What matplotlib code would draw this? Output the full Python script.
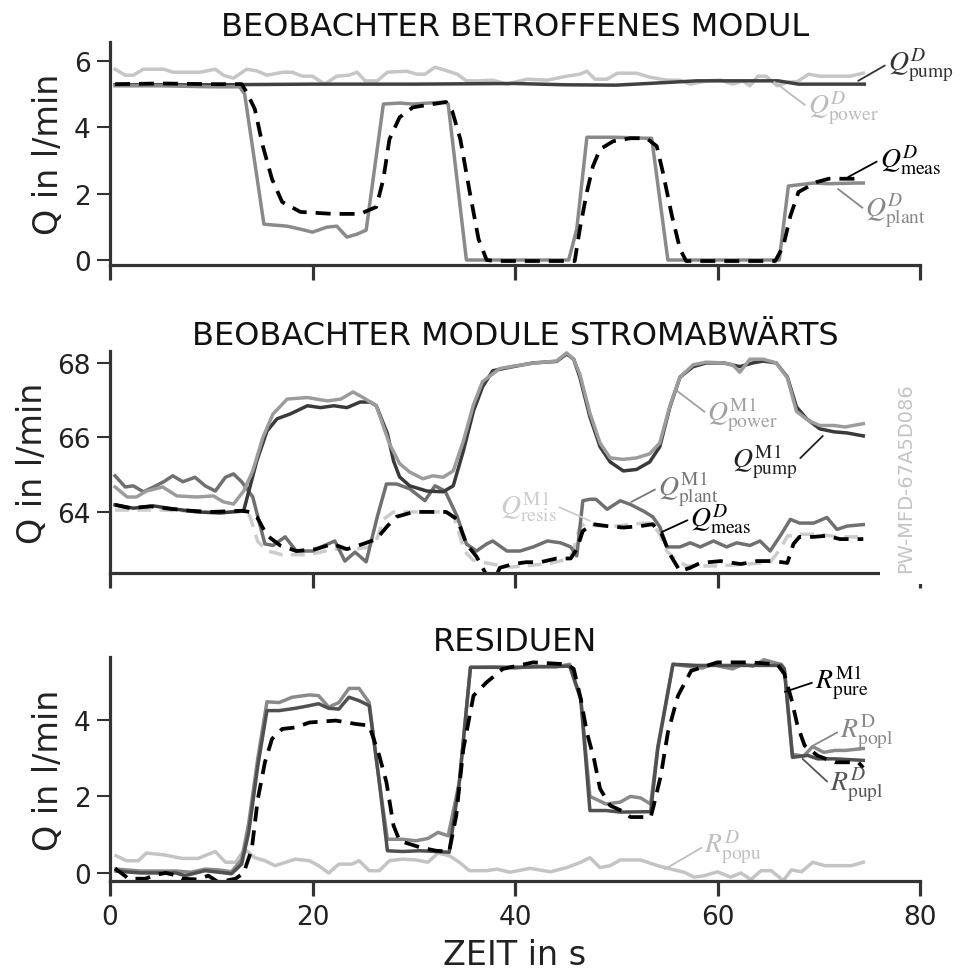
import matplotlib
matplotlib.use("Agg")
import matplotlib.pyplot as plt
from matplotlib.patches import Rectangle

plt.rcParams['font.family'] = ['DejaVu Sans']
plt.rcParams['mathtext.fontset'] = 'stix'

# ---------------- data: (time in s, flow) ----------------
# Panel 1: Beobachter betroffenes Modul
Q_PUMP_D = [(0.5, 5.28), (10, 5.28), (20, 5.3), (30, 5.3), (40, 5.32), (45, 5.28), (50, 5.27),
            (55, 5.35), (58, 5.4), (62, 5.4), (66, 5.4), (68, 5.3), (74.5, 5.3)]
Q_POWER_D = [(0.5, 5.75), (1.5, 5.57), (2.3, 5.57), (3.3, 5.75), (5.3, 5.75), (6.2, 5.66), (8.9, 5.66),
             (10.4, 5.75), (11.2, 5.57), (12.2, 5.48), (13.5, 5.75), (14.5, 5.7), (15.5, 5.57),
             (17.1, 5.66), (18, 5.66), (19, 5.54), (20, 5.54), (21.2, 5.3), (22.4, 5.54), (23.6, 5.57),
             (24.4, 5.66), (25.2, 5.4), (26.4, 5.4), (27.4, 5.66), (29.3, 5.69), (30.3, 5.6), (31.1, 5.6),
             (32.1, 5.81), (33.3, 5.7), (34.3, 5.6), (35.2, 5.4), (36.5, 5.4), (37.8, 5.42), (39.2, 5.3),
             (41.2, 5.45), (43.2, 5.42), (45.1, 5.54), (46.4, 5.6), (47.1, 5.69), (47.9, 5.45),
             (49.1, 5.45), (50.1, 5.63), (52, 5.63), (53.3, 5.51), (55, 5.42), (56.3, 5.42), (57.3, 5.3),
             (59, 5.4), (60.3, 5.42), (61.5, 5.3), (62.5, 5.4), (63.2, 5.25), (64, 5.54), (64.8, 5.54),
             (65.9, 5.25), (66.9, 5.36), (67.9, 5.38), (69, 5.6), (70.1, 5.54), (73.1, 5.54), (74.4, 5.63)]
Q_PLANT_D = [(0.5, 5.25), (5, 5.25), (10, 5.22), (12.8, 5.22), (13.3, 5.0), (15.2, 1.08), (17.5, 1.02),
             (18.8, 0.93), (20, 0.84), (21.4, 0.99), (22.4, 1.02), (23.4, 0.69), (24.4, 0.78),
             (25.3, 0.9), (27, 4.7), (28.6, 4.73), (29.9, 4.7), (33.1, 4.76), (33.4, 4.7), (35.2, 0.0),
             (45.3, 0.0), (46.1, 0.93), (47.1, 3.7), (49.8, 3.7), (53, 3.67), (53.5, 3.67), (55.1, 0.0),
             (66.1, 0.0), (67, 2.23), (69.5, 2.32), (71, 2.3), (73.7, 2.32), (74.4, 2.32)]
Q_MEAS_D = [(0.5, 5.3), (5, 5.32), (10, 5.3), (13, 5.3), (13.5, 5.06), (14.3, 4.55), (15.1, 3.43),
            (16, 2.44), (17, 1.75), (18.8, 1.45), (22, 1.39), (24.7, 1.39), (26.3, 1.6), (27, 2.44),
            (27.6, 3.64), (28.6, 4.3), (29.9, 4.6), (31.9, 4.7), (33.2, 4.76), (33.8, 4.49), (34.6, 3.64),
            (35.6, 1.93), (36.4, 0.63), (37.2, 0.0), (38, -0.03), (45.9, -0.03), (46.4, 0.93), (47.1, 2.05),
            (47.7, 2.83), (48.4, 3.34), (49.7, 3.58), (51.4, 3.67), (53, 3.67), (54, 3.43), (54.6, 2.65),
            (55.5, 1.33), (56.3, 0.33), (56.9, -0.03), (65.7, -0.03), (66.5, 0.42), (67.2, 1.33),
            (68, 2.05), (69.8, 2.35), (71, 2.45), (74.4, 2.45)]

# Panel 2: Beobachter Module stromabwaerts
Q_PUMP_M1 = [(0.5, 64.19), (2.3, 64.1), (4.3, 64.16), (6.3, 64.08), (8.6, 64.0), (10.9, 63.97),
             (13.2, 64.03), (14.5, 65.37), (15.5, 66.17), (16.5, 66.5), (17.8, 66.63), (19.5, 66.85),
             (20.8, 66.8), (22.1, 66.85), (23.4, 66.8), (24.7, 66.95), (25.7, 66.95), (26.3, 66.85),
             (27.4, 66.1), (28, 65.37), (28.6, 64.94), (29.6, 64.7), (31.3, 64.56), (32.9, 64.54),
             (33.9, 64.7), (34.9, 65.64), (35.9, 66.71), (36.8, 67.36), (37.8, 67.79), (39.8, 67.9),
             (41.8, 68.0), (44.1, 68.04), (45.1, 68.24), (45.8, 68.1), (46.4, 67.62), (47.4, 66.55),
             (48.4, 65.75), (49.4, 65.34), (50.7, 65.1), (52, 65.14), (53.3, 65.34), (54.3, 65.75),
             (55.3, 66.82), (56.3, 67.62), (57.6, 67.9), (58.9, 68.0), (60.6, 68.0), (62.2, 67.9),
             (63.5, 68.0), (64.5, 68.05), (65.8, 68.0), (66.9, 67.62), (67.8, 66.82), (68.8, 66.5),
             (70.1, 66.23), (71.5, 66.15), (72.8, 66.12), (74.4, 66.04)]
Q_POWER_M1 = [(0.5, 64.67), (1.7, 64.4), (2.6, 64.4), (3.6, 64.56), (5.2, 64.67), (6.6, 64.43),
              (8.6, 64.4), (10.2, 64.43), (11.2, 64.27), (12.2, 64.21), (13.2, 64.56), (14.1, 65.1),
              (15.1, 66.0), (16.1, 66.63), (17.5, 67.03), (19.5, 67.07), (21.5, 66.98), (22.8, 67.03),
              (24, 67.22), (25, 67.07), (26.3, 66.85), (27.6, 65.83), (28.6, 65.3), (29.6, 65.07),
              (30.9, 64.89), (31.9, 64.97), (32.9, 64.93), (33.9, 65.1), (34.9, 65.9), (35.9, 66.88),
              (36.8, 67.5), (38.5, 67.85), (40, 67.92), (42, 68.0), (44.1, 68.05), (45.1, 68.27),
              (45.8, 68.1), (46.4, 67.7), (47.4, 66.65), (48.4, 65.85), (49.4, 65.45), (50.7, 65.41),
              (52, 65.45), (53.3, 65.56), (54.3, 65.85), (55.3, 66.85), (56.3, 67.62), (57.6, 67.95),
              (58.9, 68.02), (60.6, 68.0), (61.5, 67.95), (62.2, 67.75), (63.2, 68.1), (64.5, 68.1),
              (65.8, 68.0), (66.9, 67.6), (67.8, 66.7), (69, 66.45), (70.1, 66.32), (71.5, 66.32),
              (72.6, 66.28), (74.4, 66.37)]
Q_PLANT_M1 = [(0.5, 64.97), (1.5, 64.67), (2.3, 64.7), (3.3, 64.54), (4.3, 64.67), (5.3, 64.81),
              (6.2, 64.97), (7.2, 64.81), (8.4, 64.93), (9.4, 64.7), (10.4, 64.56), (11.4, 64.93),
              (12.2, 65.02), (13, 64.81), (14.1, 64.4), (14.6, 63.87), (15.3, 63.14), (16.1, 63.1),
              (17.3, 63.33), (18.4, 62.95), (20, 62.95), (21.2, 63.1), (22.2, 63.22), (23.2, 62.68),
              (24.2, 62.92), (25.3, 62.66), (26.4, 63.87), (27.3, 64.75), (28.3, 64.75), (29.6, 64.62),
              (31.1, 64.3), (32.1, 64.7), (33.1, 64.56), (34.3, 63.87), (35.2, 63.14), (36.2, 62.95),
              (37.2, 63.14), (37.8, 63.22), (39.2, 62.95), (40.5, 62.95), (41.8, 63.06), (43.2, 63.22),
              (44.5, 63.17), (45.5, 63.06), (46.1, 62.82), (46.7, 64.3), (47.4, 64.34), (48, 64.34),
              (49.1, 64.07), (50.4, 64.3), (51.4, 64.2), (52.7, 64.02), (53.6, 63.87), (54.3, 63.6),
              (55, 63.06), (56.3, 63.06), (57.3, 63.17), (58.3, 63.06), (59.6, 63.22), (60.9, 63.06),
              (61.9, 63.17), (63.2, 63.1), (64.2, 63.22), (65.2, 62.95), (66.2, 63.36), (67.2, 63.8),
              (68.1, 63.7), (69.5, 63.7), (70.8, 63.85), (71.8, 63.53), (72.8, 63.62), (74.4, 63.66)]
Q_MEAS_D_MID = [(0.5, 64.19), (2, 64.1), (4, 64.15), (6, 64.08), (8, 64.03), (10, 64.0), (13, 64.03),
                (13.8, 64.0), (14.5, 63.87), (15.5, 63.37), (16.8, 63.1), (18.4, 62.95), (20.3, 63.0),
                (22, 63.14), (23.4, 63.0), (25, 63.14), (26.3, 63.27), (27.4, 63.62), (28.3, 63.87),
                (30, 64.0), (33.2, 64.0), (34.3, 63.8), (35.2, 63.14), (36.2, 62.8), (37.2, 62.3),
                (38, 62.2), (38.5, 62.5), (39.8, 62.6), (41.1, 62.65), (42.5, 62.65), (44.1, 62.75),
                (45.5, 62.75), (46.1, 63.0), (46.7, 63.49), (47.7, 63.67), (49.1, 63.62), (50.7, 63.58),
                (52.4, 63.62), (53.6, 63.67), (54.5, 63.4), (55.3, 62.86), (56.3, 62.41), (57.3, 62.5),
                (58.3, 62.63), (60.3, 62.68), (62.3, 62.6), (63.9, 62.68), (65.5, 62.68), (66.9, 62.63),
                (67.5, 63.14), (68.1, 63.33), (69.5, 63.33), (70.8, 63.36), (72.1, 63.27), (74.4, 63.27)]
Q_RESIS_M1 = [(0.5, 64.05), (5, 64.05), (10, 64.0), (13, 64.0), (13.8, 63.9), (14.6, 63.2), (15.6, 62.95),
              (17, 62.85), (19, 62.85), (20.5, 62.9), (22, 63.0), (24, 63.0), (25.5, 63.05), (26.4, 63.3),
              (27, 63.8), (28, 64.0), (33.3, 64.0), (34, 63.85), (35, 62.95), (35.9, 62.7), (37.7, 62.6),
              (39.5, 62.52), (41, 62.55), (43.5, 62.62), (45, 62.72), (45.7, 62.9), (46.4, 63.6),
              (47, 63.7), (48, 63.63), (50, 63.62), (52.7, 63.7), (53.5, 63.7), (54.3, 63.4), (55, 62.95),
              (56, 62.68), (57, 62.55), (60, 62.55), (63, 62.6), (65.2, 62.65), (66.2, 63.0),
              (66.9, 63.35), (68.1, 63.4), (70, 63.4), (72, 63.33), (74.4, 63.33)]

# Panel 3: Residuen
R_POPU_D = [(0.6, 0.45), (1.6, 0.32), (2.8, 0.32), (3.6, 0.52), (5.4, 0.47), (7.1, 0.38), (8.7, 0.38),
            (10.4, 0.56), (11.4, 0.28), (12.4, 0.28), (13.3, 0.62), (14.3, 0.4), (15.3, 0.32),
            (16.3, 0.19), (18.3, 0.36), (19.7, 0.32), (20.6, 0.19), (21.6, 0.0), (22.6, 0.23),
            (23.9, 0.23), (24.6, 0.32), (25.6, 0.06), (26.6, 0.06), (27.6, 0.32), (28.9, 0.36),
            (30.2, 0.34), (31.4, 0.28), (32.4, 0.52), (33.5, 0.45), (34.5, 0.28), (35.5, 0.06),
            (37.2, 0.06), (38.2, 0.1), (39.5, 0.02), (41.5, 0.12), (43.5, 0.03), (45.1, 0.14),
            (46.5, 0.28), (47.4, 0.4), (48.4, 0.14), (49.4, 0.19), (50.4, 0.34), (52.4, 0.34),
            (54.1, 0.19), (55.4, 0.1), (56.7, 0.02), (57.7, -0.11), (58.7, -0.07), (60, 0.03),
            (61.3, -0.11), (62.3, 0.0), (63.3, -0.17), (64.3, 0.06), (65.3, 0.06), (66.5, -0.2),
            (67.3, 0.08), (68.3, 0.03), (69.4, 0.28), (70.6, 0.19), (73.2, 0.19), (74.4, 0.28)]
R_PUPL_D = [(0.6, 0.05), (3, 0.0), (6.5, 0.0), (7.4, -0.07), (9.4, 0.06), (10.7, 0.02), (12, -0.02),
            (13, 0.23), (13.7, 1.06), (14.6, 2.8), (15.5, 4.24), (16.7, 4.24), (18.3, 4.3), (19.7, 4.37),
            (20.6, 4.42), (21.6, 4.3), (22.6, 4.28), (23.6, 4.59), (24.6, 4.5), (25.6, 4.37),
            (26.6, 2.37), (27.4, 0.58), (28.9, 0.56), (30.6, 0.58), (32.2, 0.56), (33.5, 0.54),
            (34.5, 2.37), (35.6, 5.37), (38.9, 5.37), (42, 5.38), (45.4, 5.4), (46.5, 4.54), (47.4, 1.63),
            (49, 1.63), (50.4, 1.59), (53.4, 1.6), (54.1, 3.24), (55.6, 5.45), (58, 5.42), (61, 5.42),
            (64, 5.42), (66.3, 5.42), (66.6, 5.33), (67.4, 3.02), (68.9, 3.07), (69.9, 2.98),
            (71.6, 2.98), (74.4, 2.94)]
R_POPL_D = [(0.6, 0.1), (3, 0.05), (6.5, 0.05), (8, 0.02), (9.4, 0.1), (10.7, 0.08), (12, 0.03),
            (13, 0.35), (13.7, 1.3), (14.6, 3.0), (15.5, 4.47), (16.7, 4.45), (18, 4.59), (19.7, 4.65),
            (20.6, 4.63), (21.6, 4.33), (22.6, 4.45), (23.6, 4.82), (24.6, 4.82), (25.6, 4.45),
            (26.6, 2.37), (27.4, 0.88), (28.9, 0.88), (30.2, 0.84), (31.4, 0.9), (32.4, 1.06),
            (33.4, 0.97), (34.5, 2.37), (35.6, 5.37), (38, 5.38), (40, 5.35), (42, 5.4), (44, 5.38),
            (45.4, 5.45), (46.5, 4.54), (47.4, 2.0), (49, 1.8), (50.4, 1.85), (51.4, 2.0), (52.4, 1.96),
            (53.4, 1.8), (54.1, 3.3), (55.6, 5.45), (57, 5.4), (58.5, 5.35), (59.5, 5.45), (60.5, 5.38),
            (61.5, 5.33), (62.5, 5.45), (63.5, 5.4), (64.6, 5.57), (65.5, 5.5), (66.3, 5.45),
            (66.6, 5.33), (67.4, 3.1), (68.5, 3.05), (69.4, 3.3), (70.5, 3.15), (71.6, 3.2),
            (72.6, 3.2), (74.4, 3.25)]
R_PURE_M1 = [(0.5, 0.12), (1.5, -0.08), (1.8, -0.15), (3.5, -0.15), (4.5, -0.05), (5.5, 0.0),
             (6.3, -0.05), (7.1, -0.15), (8.7, -0.17), (9.7, -0.07), (10.7, -0.24), (12.4, -0.15),
             (13.2, 0.0), (14, 0.62), (14.6, 1.93), (15.3, 2.89), (16, 3.5), (17, 3.76), (18.3, 3.8),
             (19.7, 3.93), (22.3, 3.98), (24.3, 3.89), (25.6, 3.85), (26.6, 3.06), (27.3, 2.37),
             (28, 1.24), (28.6, 0.84), (30.6, 0.67), (32.2, 0.58), (33.5, 0.56), (34.2, 1.5), (34.9, 3.24),
             (35.9, 4.63), (37.2, 4.98), (38.8, 5.33), (41.8, 5.5), (45.1, 5.45), (45.8, 5.33),
             (46.5, 4.54), (47.1, 3.67), (47.8, 2.98), (48.4, 2.2), (49.4, 1.76), (50.8, 1.59),
             (51.4, 1.46), (53.4, 1.46), (53.7, 1.76), (54.4, 2.54), (55.1, 3.67), (56.1, 4.63),
             (57.4, 5.28), (60, 5.5), (63.3, 5.5), (65.9, 5.45), (66.6, 5.2), (67.3, 4.54), (67.9, 3.85),
             (68.6, 3.33), (69.9, 3.06), (71.6, 2.89), (73.9, 2.89), (74.4, 2.75)]

TITLES = ["BEOBACHTER BETROFFENES MODUL", "BEOBACHTER MODULE STROMABWÄRTS", "RESIDUEN"]
X_TICKS = [0, 20, 40, 60, 80]
Y_TICKS = [[0, 2, 4, 6], [64, 66, 68], [0, 2, 4]]
YLIMS = [(-0.15, 6.57), (62.36, 68.32), (-0.21, 5.64)]
YLABEL = "Q in l/min"
XLABEL = "ZEIT in s"
WATERMARK = "PW-MFD-67A5D086"

# ---------------- figure ----------------
fig = plt.figure(figsize=(9.6, 9.79), dpi=100)
W, H = 960, 979
boxes = [(110, 43, 920, 266), (110, 352, 920, 574), (110, 658, 920, 882)]
axes = []
for (l, t, r, b) in boxes:
    axes.append(fig.add_axes([l / W, 1 - b / H, (r - l) / W, (b - t) / H]))

SPINE = '#333333'
LW = 2.5
DASH = (0, (4.0, 2.4))


def draw(ax, pts, **kw):
    xs, ys = zip(*pts)
    ax.plot(xs, ys, solid_joinstyle='round', **kw)


# panel 1
a = axes[0]
draw(a, Q_POWER_D, color='#c6c6c6', lw=LW)
draw(a, Q_PUMP_D, color='#404040', lw=LW)
draw(a, Q_PLANT_D, color='#8a8a8a', lw=LW)
draw(a, Q_MEAS_D, color='#000000', lw=2.7, ls=DASH)

# panel 2
a = axes[1]
draw(a, Q_RESIS_M1, color='#cccccc', lw=LW, ls=DASH)
draw(a, Q_PLANT_M1, color='#707070', lw=LW)
draw(a, Q_PUMP_M1, color='#3a3a3a', lw=LW)
draw(a, Q_POWER_M1, color='#9c9c9c', lw=LW)
draw(a, Q_MEAS_D_MID, color='#000000', lw=2.7, ls=DASH)

# panel 3
a = axes[2]
draw(a, R_POPU_D, color='#c4c4c4', lw=LW)
draw(a, R_POPL_D, color='#8a8a8a', lw=LW)
draw(a, R_PUPL_D, color='#505050', lw=LW)
draw(a, R_PURE_M1, color='#000000', lw=2.7, ls=DASH)

for i, a in enumerate(axes):
    a.set_xlim(0, 80)
    a.set_ylim(*YLIMS[i])
    a.set_xticks(X_TICKS)
    a.set_yticks(Y_TICKS[i])
    for s in ['top', 'right']:
        a.spines[s].set_visible(False)
    for s in ['left', 'bottom']:
        a.spines[s].set_linewidth(2.3)
        a.spines[s].set_color(SPINE)
    a.tick_params(axis='x', length=10.5, width=2.3, color=SPINE, labelsize=19, labelcolor='#222222', pad=6)
    a.tick_params(axis='y', length=9.5, width=1.5, color=SPINE, labelsize=19, labelcolor='#222222', pad=4.5)
    if i < 2:
        a.tick_params(axis='x', labelbottom=False)
    a.set_ylabel(YLABEL, fontsize=24, color='#222222', labelpad=6)
    a.set_title(TITLES[i], fontsize=23, color='#111111', pad=4)
    a.patch.set_alpha(0)

axes[2].set_xlabel(XLABEL, fontsize=24, color='#222222', labelpad=6)
fig.align_ylabels(axes)


def lab(ax, text, xy, xyt, color, ha='left'):
    rp = (0, 0.5) if ha == 'left' else (1, 0.5)
    ax.annotate(text, xy=xy, xytext=xyt, ha=ha, va='center', fontsize=20, color=color,
                annotation_clip=False,
                arrowprops=dict(arrowstyle='-', color=color, lw=1.3, shrinkA=0, shrinkB=0, relpos=rp))


a = axes[0]
lab(a, r'$Q^{D}_{\mathrm{pump}}$', (73.9, 5.40), (76.8, 5.91), '#333333')
lab(a, r'$Q^{D}_{\mathrm{power}}$', (65.6, 5.37), (68.9, 4.61), '#bbbbbb')
lab(a, r'$Q^{D}_{\mathrm{meas}}$', (72.9, 2.50), (76.0, 3.01), '#000000')
lab(a, r'$Q^{D}_{\mathrm{plant}}$', (71.9, 2.14), (74.6, 1.51), '#888888')

a = axes[1]
lab(a, r'$Q^{\mathrm{M1}}_{\mathrm{power}}$', (56.0, 67.25), (59.0, 66.63), '#a0a0a0')
lab(a, r'$Q^{\mathrm{M1}}_{\mathrm{pump}}$', (70.4, 66.04), (67.9, 65.37), '#222222', ha='right')
lab(a, r'$Q^{\mathrm{M1}}_{\mathrm{plant}}$', (51.5, 64.27), (54.1, 64.64), '#777777')
lab(a, r'$Q^{D}_{\mathrm{meas}}$', (54.5, 63.46), (57.3, 63.81), '#000000')
lab(a, r'$Q^{\mathrm{M1}}_{\mathrm{resis}}$', (47.4, 63.76), (44.1, 64.16), '#cccccc', ha='right')

a = axes[2]
lab(a, r'$R^{\mathrm{M1}}_{\mathrm{pure}}$', (66.65, 4.73), (69.6, 4.99), '#000000')
lab(a, r'$R^{\mathrm{D}}_{\mathrm{popl}}$', (69.4, 3.32), (72.1, 3.71), '#888888')
lab(a, r'$R^{D}_{\mathrm{pupl}}$', (68.4, 2.98), (71.1, 2.32), '#555555')
lab(a, r'$R^{D}_{\mathrm{popu}}$', (54.8, 0.10), (58.7, 0.70), '#c0c0c0')

# white backing behind the watermark (covers the end of the middle x axis)
fig.patches.append(Rectangle((880 / W, 1 - 585 / H), 50 / W, 213 / H, transform=fig.transFigure,
                             facecolor='white', edgecolor='none', zorder=2))
fig.text(906 / W, 1 - 478 / H, WATERMARK, rotation=90, ha='center', va='center',
         fontsize=14, color='#c4c4c4', zorder=3)

fig.savefig('out.png', dpi=100)
